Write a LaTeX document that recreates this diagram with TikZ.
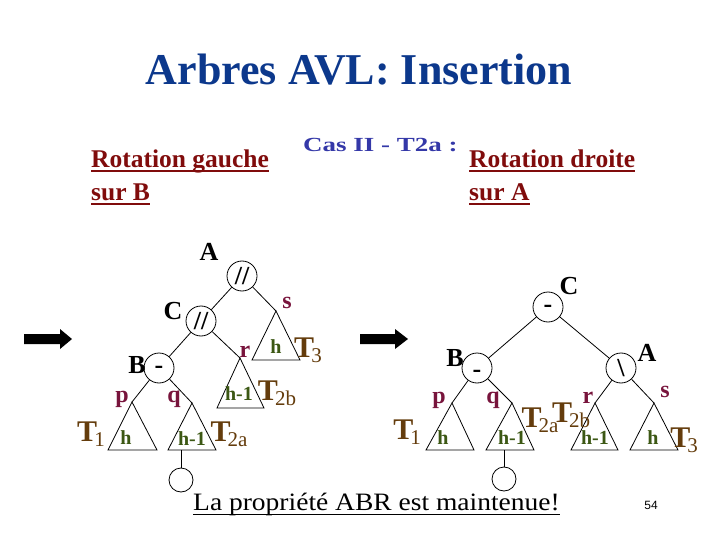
\documentclass[tikz,border=0pt]{standalone}
\usepackage{fontspec}
\setmainfont{Liberation Serif}
\newfontfamily\arialfont{Liberation Sans}
\definecolor{titleblue}{RGB}{12,56,140}
\definecolor{casblue}{RGB}{52,56,168}
\definecolor{rotred}{RGB}{128,12,12}
\definecolor{tbrown}{RGB}{100,60,12}
\definecolor{lblcol}{RGB}{120,20,60}
\definecolor{hgreen}{RGB}{60,88,20}
\newcommand{\Tlab}[1]{\textbf{T}\kern-3pt\raisebox{-5pt}{\fontsize{21}{21}\selectfont #1}}
\newcommand{\dashmark}[1]{\raisebox{#1}[0pt][0pt]{-}}
\begin{document}
\begin{tikzpicture}[x=1pt,y=-1pt,
  bal/.style={circle, draw, line width=0.8pt, minimum size=30pt, inner sep=0pt, font=\fontsize{26}{26}\selectfont\bfseries},
  leaf/.style={circle, draw, line width=0.8pt, minimum size=24pt, inner sep=0pt},
  nm/.style={inner sep=0pt, font=\fontsize{26}{26}\selectfont\bfseries},
  lbl/.style={inner sep=0pt, text=lblcol, font=\fontsize{24}{24}\selectfont\bfseries},
  hh/.style={inner sep=0pt, text=hgreen, font=\fontsize{20}{20}\selectfont\bfseries},
  tl/.style={inner sep=0pt, text=tbrown, font=\fontsize{30}{30}\selectfont},
  tri/.style={draw, line width=0.8pt, line join=miter},
  edge/.style={line width=0.8pt},
  rot/.style={inner sep=0pt, anchor=base west, text=rotred, font=\fontsize{25.5}{25.5}\selectfont\bfseries},
  uline/.style={line width=1.8pt}
]
\useasboundingbox (0,0) rectangle (720,540);

% title
\node[inner sep=0pt, anchor=base, text=titleblue, font=\fontsize{44}{44}\selectfont\bfseries] (title) at (359,85) {Arbres AVL: Insertion};

% headings
\node[rot] (rg) at (91,168) {Rotation gauche};
\node[rot] (sb) at (91,201) {sur B};
\node[rot] (rd) at (469,168) {Rotation droite};
\node[rot] (sa) at (469,201) {sur A};
\foreach \n in {rg,sb,rd,sa}
  \draw[uline, rotred] ([yshift=-3pt]\n.base west) -- ([yshift=-3pt]\n.base east);
\node[inner sep=0pt, anchor=base west, text=casblue, font=\fontsize{20}{20}\selectfont\bfseries] (cas) at (303,152) {\scalebox{1.35}[1]{Cas II - T2a :}};

% arrows
\fill (24,334) -- (60,334) -- (60,329) -- (72,339) -- (60,349) -- (60,344) -- (24,344) -- cycle;
\fill (360,334) -- (395,334) -- (395,329) -- (408,339) -- (395,349) -- (395,344) -- (360,344) -- cycle;

% ---------- left tree ----------
\node[bal] (lA) at (242,276) {//};
\node[bal] (lC) at (201,321) {//};
\node[bal] (lB) at (159,368) {\dashmark{-5.5pt}};
\node[nm] at (209,252) {A};
\node[nm] at (173,311) {C};
\node[nm] at (137,365) {B};

\coordinate (lp) at (132,402);
\coordinate (lq) at (192,403);
\coordinate (lr) at (240,358);
\coordinate (ls) at (276,311);
\draw[tri] (lp) -- (108,450) -- (157,450) -- cycle;
\draw[tri] (lq) -- (168,450) -- (216,450) -- cycle;
\draw[tri] (lr) -- (217,408) -- (264,408) -- cycle;
\draw[tri] (ls) -- (252,360) -- (300,360) -- cycle;

\draw[edge] (lA) -- (lC);
\draw[edge] (lC) -- (lB);
\draw[edge] (lA) -- (ls);
\draw[edge] (lC) -- (lr);
\draw[edge] (lB) -- (lp);
\draw[edge] (lB) -- (lq);

\coordinate (lqb) at (181,450);
\node[leaf] (lleaf) at (181,480) {};
\draw[edge] (lqb) -- (lleaf);

\node[lbl] at (122,399) {p};
\node[lbl] at (174,399) {q};
\node[lbl] at (245,352) {r};
\node[lbl] at (287,303) {s};
\node[hh] at (126,438) {h};
\node[hh] at (192,439) {h-1};
\node[hh] at (239,394) {h-1};
\node[hh] at (276,347) {h};
\node[tl] at (91,434) {\Tlab{1}};
\node[tl] at (229,434) {\Tlab{2a}};
\node[tl] at (277,393) {\Tlab{2b}};
\node[tl] at (308,350) {\Tlab{3}};

% ---------- right tree ----------
\node[bal] (rC) at (548,307) {\dashmark{-5.5pt}};
\node[bal] (rB) at (477,368) {\dashmark{-9.5pt}};
\node[bal] (rA) at (621,368) {\textbackslash};
\node[nm] at (569,286) {C};
\node[nm] at (455,358) {B};
\node[nm] at (647,353) {A};

\coordinate (rp) at (452,403);
\coordinate (rq) at (512,403);
\coordinate (rr) at (595,403);
\coordinate (rs) at (654,403);
\draw[tri] (rp) -- (426,450) -- (474,450) -- cycle;
\draw[tri] (rq) -- (486,450) -- (534,450) -- cycle;
\draw[tri] (rr) -- (571,450) -- (618,450) -- cycle;
\draw[tri] (rs) -- (630,450) -- (678,450) -- cycle;

\draw[edge] (rC) -- (rB);
\draw[edge] (rC) -- (rA);
\draw[edge] (rB) -- (rp);
\draw[edge] (rB) -- (rq);
\draw[edge] (rA) -- (rr);
\draw[edge] (rA) -- (rs);

\coordinate (rqb) at (504,450);
\node[leaf] (rleaf) at (504,479) {};
\draw[edge] (rqb) -- (rleaf);

\node[lbl] at (439,400) {p};
\node[lbl] at (493,400) {q};
\node[lbl] at (588,398) {r};
\node[lbl] at (665,392) {s};
\node[hh] at (443,438) {h};
\node[hh] at (512,438) {h-1};
\node[hh] at (595,438) {h-1};
\node[hh] at (653,438) {h};
\node[tl] at (407,432) {\Tlab{1}};
\node[tl] at (540,420) {\Tlab{2a}};
\node[tl] at (571,415) {\Tlab{2b}};
\node[tl] at (684,440) {\Tlab{3}};

% bottom text
\node[inner sep=0pt, anchor=base west, font=\fontsize{25}{25}\selectfont] (abr) at (193,510) {\scalebox{1.1}[1]{La propriété ABR est maintenue!}};
\draw[uline] ([yshift=-4.5pt]abr.base west) -- ([yshift=-4.5pt]abr.base east);
\node[inner sep=0pt, font=\arialfont\fontsize{12}{12}\selectfont] (num) at (651,505) {54};
\end{tikzpicture}
\end{document}
